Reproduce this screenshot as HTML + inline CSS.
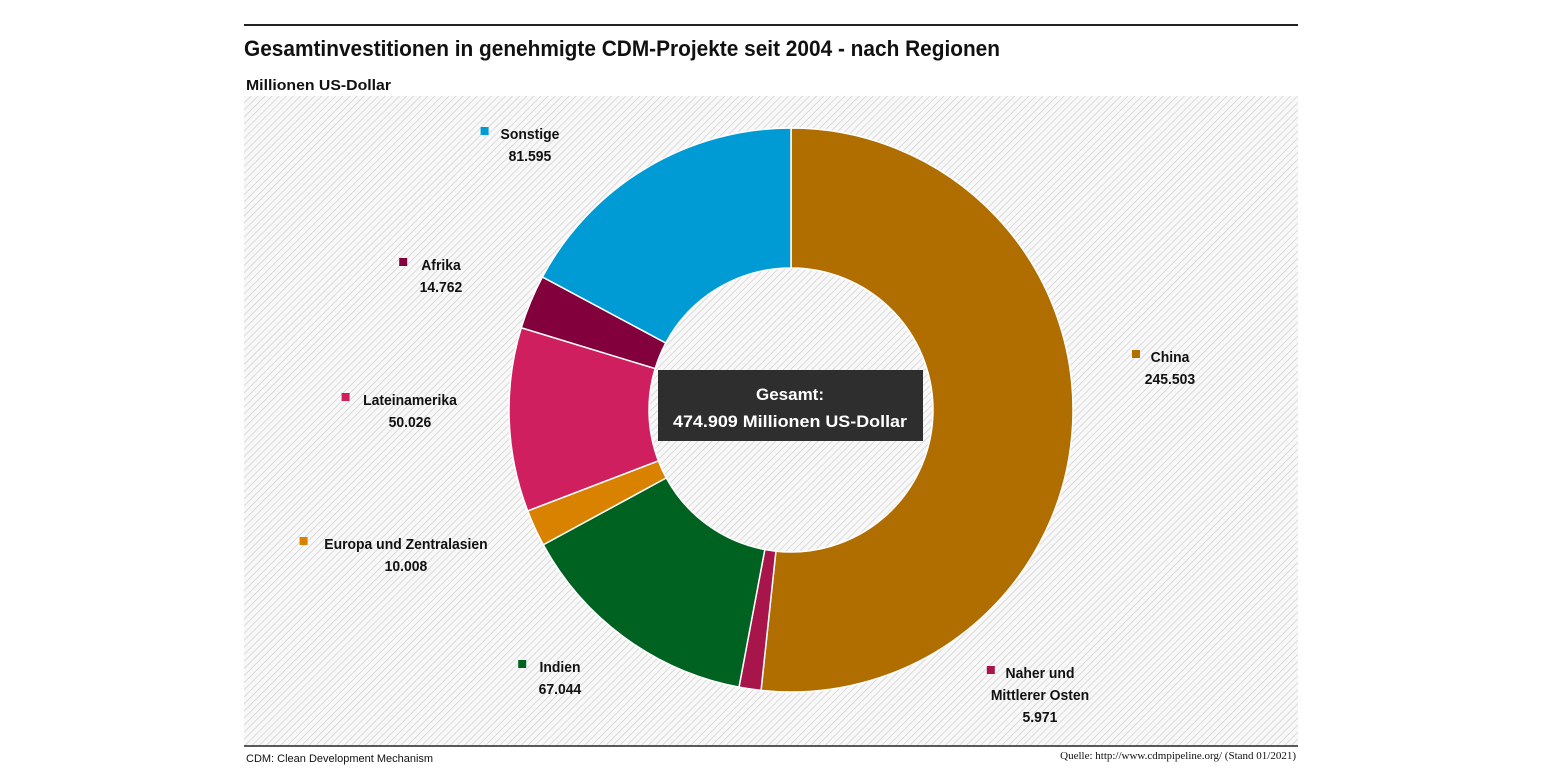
<!DOCTYPE html>
<html><head><meta charset="utf-8"><style>
body{margin:0;background:#fff;width:1545px;height:775px;overflow:hidden;font-family:"Liberation Sans",sans-serif}
svg{position:absolute;left:0;top:0}
</style></head><body>
<svg width="1545" height="775">
<defs><pattern id="hatch" width="5" height="5" patternUnits="userSpaceOnUse" patternTransform="rotate(45)">
<rect width="5" height="5" fill="#f8f8f8"/><line x1="0" y1="0" x2="0" y2="5" stroke="#cfcfcf" stroke-width="1.4"/></pattern></defs>
<line x1="244" y1="25" x2="1298" y2="25" stroke="#222" stroke-width="2"/>
<text x="244" y="56" font-size="22" font-weight="bold" fill="#111" textLength="756" lengthAdjust="spacingAndGlyphs">Gesamtinvestitionen in genehmigte CDM-Projekte seit 2004 - nach Regionen</text>
<text x="246" y="90" font-size="15" font-weight="bold" fill="#111" textLength="145" lengthAdjust="spacingAndGlyphs">Millionen US-Dollar</text>
<rect x="244" y="96" width="1054" height="649" fill="url(#hatch)"/>
<g id="slices"></g>
<g id="labels"></g>
<rect x="658" y="370" width="265" height="71" fill="#2e2e2e"/>
<text x="790" y="400" font-size="17" font-weight="bold" fill="#fff" text-anchor="middle">Gesamt:</text>
<text x="790" y="427" font-size="17" font-weight="bold" fill="#fff" text-anchor="middle" textLength="234" lengthAdjust="spacingAndGlyphs">474.909 Millionen US-Dollar</text>
<line x1="244" y1="746" x2="1298" y2="746" stroke="#222" stroke-width="1.5"/>
<text x="246" y="762" font-size="11" fill="#111">CDM: Clean Development Mechanism</text>
<text x="1296" y="759" font-size="11" fill="#111" text-anchor="end" font-family="Liberation Serif, serif">Quelle: http://www.cdmpipeline.org/ (Stand 01/2021)</text>
</svg>
<script>
const categories=["China","Naher und Mittlerer Osten","Indien","Europa und Zentralasien","Lateinamerika","Afrika","Sonstige"];
const values=[245503,5971,67044,10008,50026,14762,81595];
const valueLabels=["245.503","5.971","67.044","10.008","50.026","14.762","81.595"];
const colors=["#b06d00","#a8154b","#006220","#d98200","#cf1f5e","#82003c","#009bd5"];
const labelPos=[[1170,362],[1040,678],[560,672],[406,549],[410,405],[441,270],[530,139]];
const NS="http://www.w3.org/2000/svg";
const cx=791,cy=410,R=282,r=142;
const total=values.reduce((a,b)=>a+b,0);
let a0=0;
const g=document.getElementById('slices'),lg=document.getElementById('labels');
function pt(rad,a){return [cx+rad*Math.sin(a),cy-rad*Math.cos(a)];}
values.forEach((v,i)=>{
 const a1=a0+v/total*2*Math.PI;
 const [x1,y1]=pt(R,a0),[x2,y2]=pt(R,a1),[x3,y3]=pt(r,a1),[x4,y4]=pt(r,a0);
 const lf=(a1-a0)>Math.PI?1:0;
 const p=document.createElementNS(NS,'path');
 p.setAttribute('d',`M${x1},${y1}A${R},${R} 0 ${lf} 1 ${x2},${y2}L${x3},${y3}A${r},${r} 0 ${lf} 0 ${x4},${y4}Z`);
 p.setAttribute('fill',colors[i]);p.setAttribute('stroke','#fff');p.setAttribute('stroke-width','1.5');
 
 
 g.appendChild(p);
 a0=a1;
 const [lx,ly]=labelPos[i];
 const lines=categories[i]==="Naher und Mittlerer Osten"?["Naher und","Mittlerer Osten"]:[categories[i]];
 const sq=document.createElementNS(NS,'rect');
 const firstW=lines[0].length*7.6;
 sq.setAttribute('x',lx-firstW/2-19);sq.setAttribute('y',ly-12);sq.setAttribute('width',8);sq.setAttribute('height',8);sq.setAttribute('fill',colors[i]);
 
 
 lg.appendChild(sq);
 lines.concat([valueLabels[i]]).forEach((s,k)=>{
  const t=document.createElementNS(NS,'text');
  t.setAttribute('x',lx);t.setAttribute('y',ly+k*22);t.setAttribute('text-anchor','middle');
  t.setAttribute('font-size','15');t.setAttribute('font-weight','bold');t.setAttribute('fill','#111');
  t.setAttribute('transform',`translate(${lx} 0) scale(0.93 1) translate(${-lx} 0)`);
  t.textContent=s;
  
  
  lg.appendChild(t);
 });
});
</script>
</body></html>
